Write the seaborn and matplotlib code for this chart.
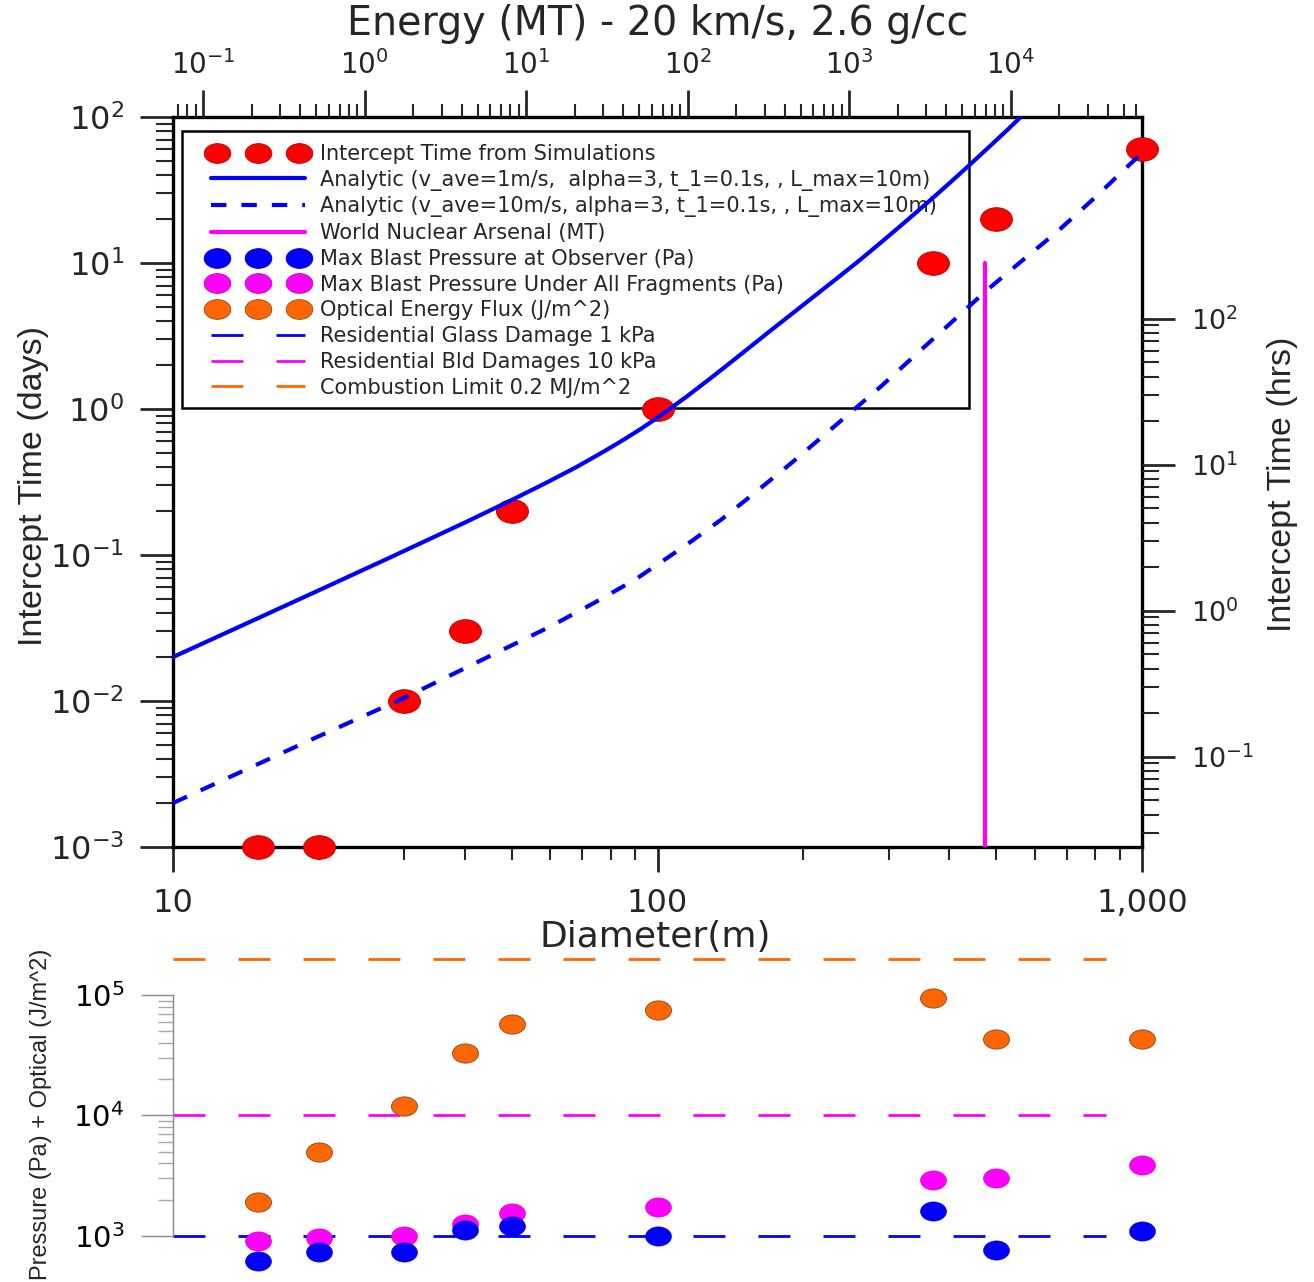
import numpy as np
import matplotlib
matplotlib.use("Agg")
import matplotlib.pyplot as plt
import seaborn as sns
from matplotlib.path import Path
from matplotlib.transforms import Affine2D
from matplotlib.lines import Line2D
from matplotlib.patches import Rectangle
from matplotlib.legend_handler import HandlerLine2D
from matplotlib.ticker import (FuncFormatter, FixedLocator, LogLocator,
                               NullFormatter, NullLocator)

# ---------------- data ----------------
sim_diameter = [15, 20, 30, 40, 50, 100, 370, 500, 1000]
sim_days = [0.001, 0.001, 0.01, 0.03, 0.2, 1.0, 10, 20, 60]

analytic1_diameter = [10, 15, 20, 28.5, 40, 50, 58, 68, 78, 85, 92, 100, 115, 130,
                      148, 168, 183, 200, 218, 238, 263, 290, 316, 343, 370, 400,
                      438, 470, 500, 530, 560]
analytic1_days = [0.020, 0.037, 0.0573, 0.0985, 0.1666, 0.238, 0.304, 0.40, 0.518,
                  0.614, 0.724, 0.872, 1.22, 1.667, 2.343, 3.28, 4.10, 5.17, 6.48,
                  8.15, 10.63, 13.93, 17.74, 22.4, 27.9, 35.1, 46.1, 57.2, 69.2,
                  82.9, 99]

analytic10_diameter = [10, 19.2, 30, 46, 60, 74, 90, 104.5, 117, 135, 155, 190, 238,
                       290, 348, 410, 478, 570, 667, 800, 960, 1000]
analytic10_days = [0.002, 0.0054, 0.0105, 0.021, 0.0323, 0.047, 0.068, 0.095, 0.123,
                   0.1735, 0.25, 0.433, 0.82, 1.44, 2.5, 4.09, 6.5, 10.6, 16.3, 28.1,
                   50, 56.5]

arsenal_diameter = [475, 475]
arsenal_days = [0.001, 10]

optical_flux = [1900, 5000, 12000, 33000, 57000, 75000, 95000, 43000, 43000]
pressure_all = [900, 970, 1000, 1250, 1550, 1750, 2900, 3000, 3900]
pressure_obs = [620, 740, 740, 1130, 1200, 1000, 1600, 770, 1100]

threshold_x = [10, 843]
glass_kpa = [1000, 1000]
bld_kpa = [10000, 10000]
combustion = [2e5, 2e5]

hrs_major = [0.1, 1, 10, 100]
energy_major = [0.1, 1, 10, 100, 1e3, 1e4]

legend_labels = [
    "Intercept Time from Simulations",
    "Analytic (v_ave=1m/s,  alpha=3, t_1=0.1s, , L_max=10m)",
    "Analytic (v_ave=10m/s, alpha=3, t_1=0.1s, , L_max=10m)",
    "World Nuclear Arsenal (MT)",
    "Max Blast Pressure at Observer (Pa)",
    "Max Blast Pressure Under All Fragments (Pa)",
    "Optical Energy Flux (J/m^2)",
    "Residential Glass Damage 1 kPa",
    "Residential Bld Damages 10 kPa",
    "Combustion Limit 0.2 MJ/m^2",
]

# ---------------- style ----------------
sns.set_style("ticks")
plt.rcParams["font.family"] = ["DejaVu Sans"]
plt.rcParams["mathtext.fontset"] = "dejavusans"
NARROW = ["Liberation Sans", "DejaVu Sans"]

RED, BLUE, MAG, ORA = "#FF0000", "#0000FF", "#FF00FF", "#FF6600"
LONGDASH = (0, (11.5, 11.9))
SHORTDASH = (0, (3.7, 3.6))

ell = Path.unit_circle().transformed(Affine2D().scale(1.0, 0.74))


def energy_mt(d):
    d = np.asarray(d, dtype=float)
    mass = 2600.0 * np.pi / 6.0 * d ** 3
    return 0.5 * mass * 20000.0 ** 2 / 4.184e15


def minor_ticks(lo, hi):
    out = []
    for e in range(-4, 7):
        for m in range(2, 10):
            v = m * 10.0 ** e
            if lo <= v <= hi:
                out.append(v)
    return out


W, H = 1314, 1282
fig = plt.figure(figsize=(W / 100, H / 100), dpi=100)
L, R = 173 / W, 1142 / W
ax = fig.add_axes([L, 1 - 847 / H, R - L, (847 - 117) / H])
ax.set_xscale("log")
ax.set_yscale("log")
ax.set_xlim(10, 1000)
ax.set_ylim(1e-3, 1e2)

# main data
sns.lineplot(x=analytic1_diameter, y=analytic1_days, ax=ax, color=BLUE, lw=3,
             estimator=None, sort=False, legend=False, zorder=5)
sns.lineplot(x=analytic10_diameter, y=analytic10_days, ax=ax, color=BLUE, lw=3,
             linestyle=SHORTDASH, estimator=None, sort=False, legend=False, zorder=5)
sns.lineplot(x=arsenal_diameter, y=arsenal_days, ax=ax, color=MAG, lw=3,
             estimator=None, sort=False, legend=False, zorder=5)
sns.scatterplot(x=sim_diameter, y=sim_days, ax=ax, marker=ell, s=530, color=RED,
                edgecolor="#B00000", linewidth=0.6, zorder=4, clip_on=False,
                legend=False)

for s in ax.spines.values():
    s.set_linewidth(2.4)
    s.set_color("black")
    s.set_zorder(3)

ax.xaxis.set_major_locator(FixedLocator([10, 100, 1000]))
ax.xaxis.set_minor_locator(FixedLocator(minor_ticks(10, 1000)))
ax.xaxis.set_major_formatter(FuncFormatter(lambda v, p: f"{v:,.0f}"))
ax.xaxis.set_minor_formatter(NullFormatter())
ax.yaxis.set_major_locator(FixedLocator([1e-3, 1e-2, 1e-1, 1, 10, 100]))
ax.yaxis.set_minor_locator(FixedLocator(minor_ticks(1e-3, 1e2)))
ax.yaxis.set_minor_formatter(NullFormatter())
ax.tick_params(axis="x", which="major", direction="out", length=18, width=2.0,
               labelsize=23, pad=11.5, top=False)
ax.tick_params(axis="x", which="minor", direction="out", length=9.4, width=1.5, top=False)
ax.tick_params(axis="y", which="major", direction="out", length=24, width=2.0,
               labelsize=23, pad=11.5, right=False)
ax.tick_params(axis="y", which="minor", direction="out", length=12, width=1.5, right=False)

ax.set_xlabel("Diameter(m)", fontsize=26)
ax.xaxis.set_label_coords((655 - 173) / 969, (847 - 937) / 730)
ax.xaxis.label.set_va("center")

ax.set_ylabel("Intercept Time (days)", fontsize=24.5, family=NARROW)
ax.yaxis.label.set_va("center")
ax.yaxis.label.set_rotation_mode("default")
ax.yaxis.set_label_coords((34 - 173) / 969, (847 - 486) / 730)

# right axis: hours
axr = ax.twinx()
axr.set_yscale("log")
axr.set_ylim(1e-3 * 24, 1e2 * 24)
for s in axr.spines.values():
    s.set_visible(False)
axr.yaxis.set_major_locator(FixedLocator(hrs_major))
axr.yaxis.set_minor_locator(FixedLocator(minor_ticks(0.024, 100)))
axr.yaxis.set_minor_formatter(NullFormatter())
axr.tick_params(axis="y", which="major", direction="out", length=24, width=2.0,
                labelsize=19.5, pad=11.5)
axr.tick_params(axis="y", which="minor", direction="out", length=12, width=1.5)
axr.set_ylabel("Intercept Time (hrs)", fontsize=24.5, family=NARROW, rotation=90)
axr.yaxis.label.set_va("center")
axr.yaxis.label.set_rotation_mode("default")
axr.yaxis.set_label_coords((1283 - 173) / 969, (847 - 484) / 730)

# top axis: energy
axt = ax.twiny()
axt.set_xscale("log")
e_lo, e_hi = float(energy_mt(10)), float(energy_mt(1000))
axt.set_xlim(e_lo, e_hi)
for s in axt.spines.values():
    s.set_visible(False)
axt.xaxis.set_major_locator(FixedLocator(energy_major))
axt.xaxis.set_minor_locator(FixedLocator(minor_ticks(e_lo, e_hi)))
axt.xaxis.set_minor_formatter(NullFormatter())
axt.tick_params(axis="x", which="major", direction="out", length=19.4, width=2.0,
                labelsize=20, pad=7)
axt.tick_params(axis="x", which="minor", direction="out", length=9.4, width=1.5)
axt.set_xlabel("Energy (MT) - 20 km/s, 2.6 g/cc", fontsize=28.5)
axt.xaxis.label.set_va("center")
axt.xaxis.set_label_coords(0.5, (847 - 24) / 730)

# legend (frame drawn as a rectangle so the inner padding matches)
ax.add_patch(Rectangle(((182 - 173) / 969, (847 - 408) / 730), (969 - 182) / 969,
                       (408 - 131) / 730, transform=ax.transAxes, fill=False,
                       lw=1.8, edgecolor="black", zorder=1))


def dots(c, ec):
    return Line2D([], [], ls="none", marker=ell, ms=19.2, mfc=c, mec=ec, mew=0.6)


handles = [
    dots(RED, "#B00000"),
    Line2D([], [], color=BLUE, lw=3),
    Line2D([], [], color=BLUE, lw=3, ls=SHORTDASH),
    Line2D([], [], color=MAG, lw=3),
    dots(BLUE, "#0000B0"),
    dots(MAG, "#C000C0"),
    dots(ORA, "#8A4A20"),
    Line2D([], [], color=BLUE, lw=2, ls=LONGDASH),
    Line2D([], [], color=MAG, lw=2, ls=LONGDASH),
    Line2D([], [], color=ORA, lw=2, ls=LONGDASH),
]
hmap = {h: HandlerLine2D(numpoints=1) for h in handles if h.get_linestyle() != "None"}
leg = ax.legend(handles, legend_labels, loc="upper left",
                bbox_to_anchor=(211 / W, 1 - 144 / H), bbox_transform=fig.transFigure,
                frameon=False, numpoints=3, handlelength=4.51, handletextpad=0.72,
                labelspacing=0.275, borderpad=0, borderaxespad=0,
                prop={"family": "DejaVu Sans", "size": 15}, handler_map=hmap)
leg.set_zorder(1)

# ---------------- bottom panel ----------------
ax2 = fig.add_axes([L, 0, R - L, (H - 945) / H])
ax2.set_xscale("log")
ax2.set_yscale("log")
ax2.set_xlim(10, 1000)
ax2.set_ylim(10 ** 2.618, 10 ** 5.415)
ax2.patch.set_alpha(0)

for yv, c in [(combustion, ORA), (bld_kpa, MAG), (glass_kpa, BLUE)]:
    sns.lineplot(x=threshold_x, y=yv, ax=ax2, color=c, lw=2, linestyle=LONGDASH,
                 estimator=None, sort=False, legend=False, zorder=2)

sns.scatterplot(x=sim_diameter, y=optical_flux, ax=ax2, marker=ell, s=350, color=ORA,
                edgecolor="#7A4A2A", linewidth=0.6, zorder=3, legend=False, clip_on=False)
sns.scatterplot(x=sim_diameter, y=pressure_all, ax=ax2, marker=ell, s=350, color=MAG,
                edgecolor="#C000C0", linewidth=0.4, zorder=3, legend=False, clip_on=False)
sns.scatterplot(x=sim_diameter, y=pressure_obs, ax=ax2, marker=ell, s=350, color=BLUE,
                edgecolor="#0000B0", linewidth=0.4, zorder=4, legend=False, clip_on=False)

for k in ["top", "right", "bottom"]:
    ax2.spines[k].set_visible(False)
ax2.spines["left"].set_color("#888888")
ax2.spines["left"].set_linewidth(1.0)
ax2.spines["left"].set_bounds(1e3, 1e5)
ax2.xaxis.set_major_locator(NullLocator())
ax2.xaxis.set_minor_locator(NullLocator())
ax2.yaxis.set_major_locator(FixedLocator([1e3, 1e4, 1e5]))
ax2.yaxis.set_minor_locator(FixedLocator(minor_ticks(1e3, 1e5)))
ax2.yaxis.set_minor_formatter(NullFormatter())
ax2.tick_params(axis="y", which="major", direction="out", length=23, width=1.0,
                color="#888888", labelcolor="black", labelsize=21, pad=12)
ax2.tick_params(axis="y", which="minor", direction="out", length=11, width=1.0,
                color="#AAAAAA")
ax2.set_xlabel("")
ax2.set_ylabel("Pressure (Pa) + Optical (J/m^2)", fontsize=17, family=NARROW)
ax2.yaxis.label.set_va("center")
ax2.yaxis.label.set_rotation_mode("default")
ax2.yaxis.set_label_coords((41 - 173) / 969, (H - 1114) / (H - 945))

fig.savefig("out.png", dpi=100)
